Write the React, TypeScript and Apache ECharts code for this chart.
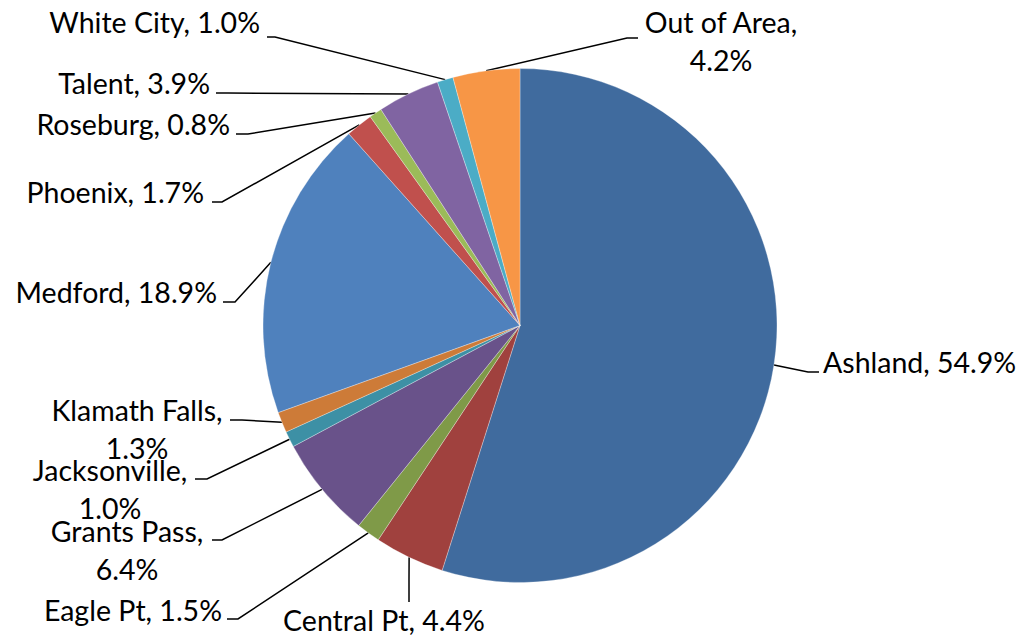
import React, { useEffect, useRef } from "react";
import * as echarts from "echarts";

const categories = [
  "Ashland", "Central Pt", "Eagle Pt", "Grants Pass", "Jacksonville", "Klamath Falls",
  "Medford", "Phoenix", "Roseburg", "Talent", "White City", "Out of Area",
];
const values = [54.9, 4.4, 1.5, 6.4, 1.0, 1.3, 18.9, 1.7, 0.8, 3.9, 1.0, 4.2];
const colors = [
  "#406B9E", "#A0413E", "#7F9A48", "#69528A", "#3D90A5", "#CD7B38",
  "#4F81BD", "#C0504D", "#9BBB59", "#8064A2", "#4BACC6", "#F79646",
];

// label placement (text anchor x, first line centre y, alignment, line break, elbow, end)
const LH = 38;
const labelPlaces: { x: number; y: number; align: string; brk: boolean; elbow: number[]; end: number[] }[] = [
  { x: 823, y: 362, align: "left", brk: false, elbow: [808, 372], end: [819, 372] },
  { x: 384, y: 620, align: "center", brk: false, elbow: [409, 580], end: [409, 602] },
  { x: 222, y: 610, align: "right", brk: false, elbow: [238, 619], end: [227, 619] },
  { x: 127, y: 531, align: "center", brk: true, elbow: [222, 540], end: [212, 540] },
  { x: 110, y: 470, align: "center", brk: true, elbow: [207, 479], end: [195, 479] },
  { x: 137, y: 410, align: "center", brk: true, elbow: [242, 420], end: [230, 420] },
  { x: 217, y: 292, align: "right", brk: false, elbow: [235, 302], end: [223, 302] },
  { x: 204, y: 192, align: "right", brk: false, elbow: [222, 202], end: [212, 202] },
  { x: 230, y: 124, align: "right", brk: false, elbow: [248, 134], end: [236, 134] },
  { x: 210, y: 83, align: "right", brk: false, elbow: [228, 93], end: [216, 93] },
  { x: 260, y: 22, align: "right", brk: false, elbow: [275, 37], end: [267, 37] },
  { x: 721, y: 22, align: "center", brk: true, elbow: [627, 38], end: [638, 38] },
];

export default function App() {
  const ref = useRef<HTMLDivElement>(null);
  useEffect(() => {
    if (!ref.current) return;
    const chart = echarts.init(ref.current, null, { renderer: "svg" });
    chart.setOption({
      animation: false,
      backgroundColor: "#ffffff",
      series: [
        {
          type: "pie",
          center: [520, 325.5],
          radius: 257,
          startAngle: 90,
          clockwise: true,
          avoidLabelOverlap: false,
          data: categories.map((c, i) => ({
            name: c,
            value: values[i],
            itemStyle: { color: colors[i] },
          })),
          itemStyle: { borderColor: "rgba(255,255,255,0.6)", borderWidth: 0.5 },
          label: {
            show: true,
            position: "outside",
            color: "#000",
            fontFamily: "Lato",
            fontSize: 28.5,
            lineHeight: LH,
            formatter: (p: any) =>
              p.name + "," + (labelPlaces[p.dataIndex].brk ? "\n" : " ") + Number(p.value).toFixed(1) + "%",
          },
          labelLine: {
            show: true,
            length: 10,
            length2: 10,
            smooth: false,
            lineStyle: { color: "#000", width: 1.5 },
          },
          labelLayout: (params: any) => {
            const L = labelPlaces[params.dataIndex];
            const a = params.labelLinePoints ? params.labelLinePoints[0] : L.elbow;
            return {
              x: L.x,
              y: L.y - LH / 2,
              align: L.align,
              verticalAlign: "top",
              labelLinePoints: [a, L.elbow, L.end],
            };
          },
        },
      ],
    });
    return () => chart.dispose();
  }, []);
  return (
    <div
      ref={ref}
      style={{ position: "fixed", left: 0, top: 0, width: 1027, height: 637 }}
    />
  );
}
